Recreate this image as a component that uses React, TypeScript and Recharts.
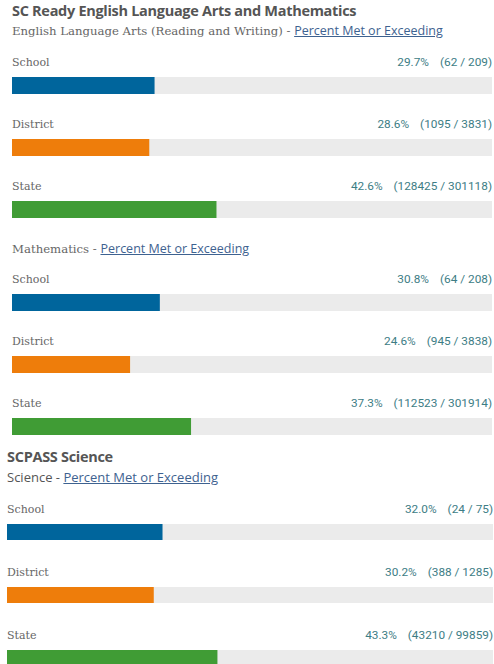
import { BarChart, Bar, XAxis, YAxis, Cell, LabelList } from 'recharts';

const groups = ['School', 'District', 'State'];
const elaPct = [29.7, 28.6, 42.6];
const elaCounts = ['(62 / 209)', '(1095 / 3831)', '(128425 / 301118)'];
const mathPct = [30.8, 24.6, 37.3];
const mathCounts = ['(64 / 208)', '(945 / 3838)', '(112523 / 301914)'];
const sciPct = [32.0, 30.2, 43.3];
const sciCounts = ['(24 / 75)', '(388 / 1285)', '(43210 / 99859)'];

const barColors = ['#00659c', '#ee7d0b', '#409c35'];
const TRACK = '#ebebeb';
const SLAB = '"DejaVu Serif", serif';
const SANS = '"Open Sans", sans-serif';

interface Row {
  name: string;
  pct: number;
  label: string;
}

const toRows = (pct: number[], counts: string[]): Row[] =>
  groups.map((name, i) => ({ name, pct: pct[i], label: `${pct[i].toFixed(1)}%|${counts[i]}` }));

interface MeterProps {
  rows: Row[];
  left: number;
  top: number;
  width: number;
  height: number;
  barSize: number;
}

function Meter({ rows, left, top, width, height, barSize }: MeterProps) {
  // name on the left and value on the right, both sitting above the bar
  const renderLabel = (props: any) => {
    const { y, index } = props;
    const row = rows[index];
    const [pct, count] = row.label.split('|');
    const base = y - 11;
    return (
      <g>
        <text x={0} y={base} fontFamily={SLAB} fontSize={11} fill="#666">
          {row.name}
        </text>
        <text x={width} y={base} textAnchor="end" fontFamily="Roboto, sans-serif" fontSize={11.8} fill="#3d7d85">
          <tspan>{pct}</tspan>
          <tspan dx={11}>{count}</tspan>
        </text>
      </g>
    );
  };

  return (
    <div style={{ position: 'absolute', left, top }}>
      <BarChart
        width={width}
        height={height}
        data={rows}
        layout="vertical"
        margin={{ top: 0, right: 0, bottom: 0, left: 0 }}
        barCategoryGap={0}
        style={{ overflow: 'visible' }}
      >
        <XAxis type="number" domain={[0, 100]} hide />
        <YAxis type="category" dataKey="name" hide />
        <Bar dataKey="pct" barSize={barSize} background={{ fill: TRACK }} isAnimationActive={false}>
          {rows.map((r, i) => (
            <Cell key={r.name} fill={barColors[i]} />
          ))}
          <LabelList dataKey="label" content={renderLabel} />
        </Bar>
      </BarChart>
    </div>
  );
}

const linkStyle = {
  fontFamily: SANS,
  fontSize: 12.5,
  color: '#3e6290',
  textDecoration: 'underline',
};

const headStyle = {
  fontFamily: SANS,
  fontWeight: 700,
  fontSize: 14.5,
  letterSpacing: -0.3,
  color: '#555',
};

function Text({ top, left, children, style }: any) {
  return (
    <div style={{ position: 'absolute', top, left, whiteSpace: 'nowrap', lineHeight: '20px', ...style }}>
      {children}
    </div>
  );
}

export default function App() {
  return (
    <div
      style={{
        position: 'absolute',
        left: 0,
        top: 0,
        width: 494,
        height: 664,
        overflow: 'hidden',
        background: '#fff',
      }}
    >
      <Text top={1} left={12} style={headStyle}>
        SC Ready English Language Arts and Mathematics
      </Text>
      <Text top={21} left={12} style={{ fontFamily: SLAB, fontSize: 11.7, color: '#666' }}>
        English Language Arts (Reading and Writing) - <span style={linkStyle}>Percent Met or Exceeding</span>
      </Text>
      <Meter rows={toRows(elaPct, elaCounts)} left={12} top={53.5} width={480} height={186} barSize={17} />

      <Text top={239} left={12} style={{ fontFamily: SLAB, fontSize: 11.7, color: '#666' }}>
        Mathematics - <span style={linkStyle}>Percent Met or Exceeding</span>
      </Text>
      <Meter rows={toRows(mathPct, mathCounts)} left={12} top={270.5} width={480} height={186} barSize={17} />

      <Text top={447} left={7} style={headStyle}>
        SCPASS Science
      </Text>
      <Text top={467} left={7} style={{ fontFamily: SANS, fontSize: 13, color: '#555' }}>
        Science - <span style={{ ...linkStyle, fontSize: 13 }}>Percent Met or Exceeding</span>
      </Text>
      <Meter rows={toRows(sciPct, sciCounts)} left={7} top={499.5} width={486} height={189} barSize={16} />
    </div>
  );
}
